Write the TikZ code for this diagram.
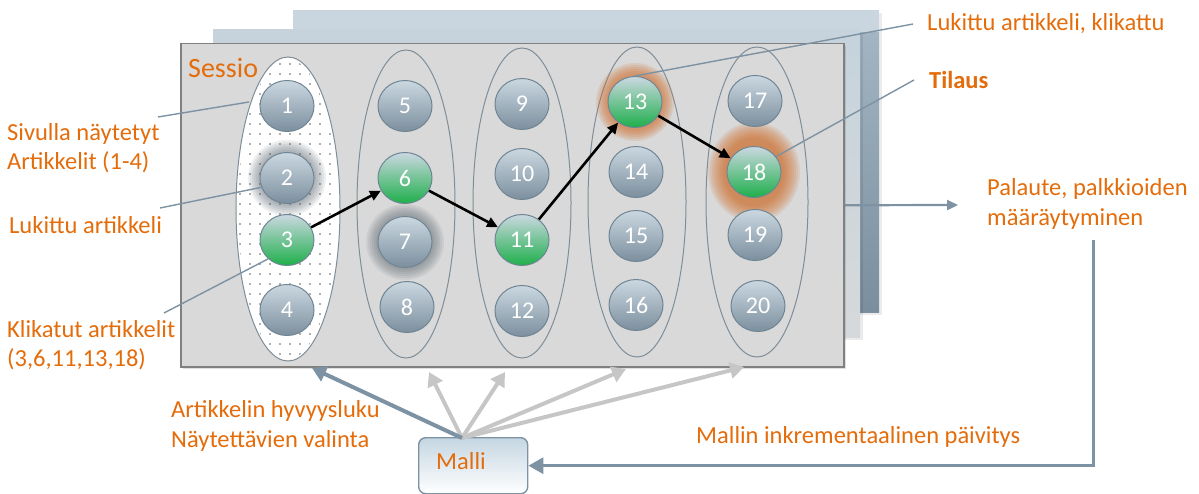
\documentclass[tikz,border=0pt]{standalone}
\usepackage{fontspec}
\setmainfont{Carlito}
\usetikzlibrary{shapes.geometric,arrows.meta,patterns.meta}
\definecolor{org}{HTML}{E46C0A}
\definecolor{lineblue}{HTML}{7D92A2}
\definecolor{backfill}{HTML}{C9D6DF}
\definecolor{midTop}{HTML}{C6D3DC}
\definecolor{midBot}{HTML}{D6D9DB}
\definecolor{stripeTop}{HTML}{A3B5C2}
\definecolor{stripeBot}{HTML}{7A8E9E}
\definecolor{sessfill}{HTML}{D9D9D9}
\definecolor{sessedge}{HTML}{808080}
\definecolor{coledge}{HTML}{7F8D97}
\definecolor{artTop}{HTML}{CBD8E1}
\definecolor{artBot}{HTML}{7C8F9E}
\definecolor{artGreen}{HTML}{1EAF4B}
\definecolor{artedge}{HTML}{6F8594}
\definecolor{glowgray}{HTML}{4A5862}
\definecolor{gloworange}{HTML}{CF6A25}
\definecolor{lightarrow}{HTML}{C6C6C6}
\definecolor{malliTop}{HTML}{C5D6E2}
\tikzset{
  art/.style={ellipse, minimum width=54pt, minimum height=51pt, inner sep=0pt,
    draw=artedge, line width=1pt, top color=artTop, bottom color=artBot,
    text=white, font=\fontsize{24}{24}\selectfont},
  artgreen/.style={art, top color=artTop, bottom color=artGreen},
  column/.style={ellipse, draw=coledge, line width=1pt, inner sep=0pt},
  lbl/.style={text=org, font=\fontsize{24.5}{29.5}\selectfont, align=left, anchor=west, inner sep=0pt},
  callout/.style={draw=lineblue, line width=1.4pt},
  path/.style={draw=black, line width=2.6pt, -{Triangle[length=11pt,width=10pt]}},
  modelarrow/.style={line width=4pt, -{Triangle[length=14pt,width=16pt]}},
}
\begin{document}
\begin{tikzpicture}[x=1pt,y=-1pt]
\useasboundingbox (0,0) rectangle (1199,494);
% stacked session sheets
\fill[black, opacity=0.08] (296,13) rectangle (882,315);
\fill[backfill] (293,10) rectangle (879,312);
\fill[top color=stripeTop, bottom color=stripeBot] (860,33) rectangle (879,312);
\fill[black, opacity=0.08] (216,33) rectangle (863,340);
\fill[top color=midTop, bottom color=midBot] (213,30) rectangle (860,337);
\fill[black, opacity=0.12] (183,46) rectangle (846,369);
\node[draw=sessedge, fill=sessfill, line width=1.5pt, minimum width=663pt, minimum height=323pt,
      inner sep=0pt, anchor=north west] (sess) at (180,43) {};
\node[text=org, font=\fontsize{28}{28}\selectfont, anchor=west, inner sep=0pt] (sessio) at (188,68) {Sessio};

% columns
\node[column, minimum width=104pt, minimum height=304pt, fill=white] (col1) at (288,209) {};
\fill[pattern={Dots[distance=10pt, radius=0.85pt]}, pattern color=gray!75!black]
  (288,209) ellipse [x radius=50pt, y radius=150pt];
\node[column, minimum width=98pt, minimum height=308pt] (col2) at (406,204) {};
\node[column, minimum width=98pt, minimum height=310pt] (col3) at (522,203) {};
\node[column, minimum width=98pt, minimum height=310pt] (col4) at (637,202) {};
\node[column, minimum width=102pt, minimum height=310pt] (col5) at (757,202) {};

% glows
\foreach \r in {29,31,...,39} {
  \fill[glowgray, opacity=0.09] (287,178) ellipse [x radius=\r pt, y radius=\r pt-1pt];
  \fill[glowgray, opacity=0.09] (405,242) ellipse [x radius=\r pt, y radius=\r pt-1pt];
  \fill[gloworange, opacity=0.14] (635,102) ellipse [x radius=\r pt, y radius=\r pt];
}
\foreach \r in {30,32,...,46} {
  \fill[gloworange, opacity=0.12] (754,172) ellipse [x radius=\r pt, y radius=\r pt+4pt];
}

% articles
\node[art] (a1) at (287,106) {1};
\node[art] (a2) at (287,178) {2};
\node[artgreen] (a3) at (287,240) {3};
\node[art] (a4) at (287,310) {4};
\node[art] (a5) at (405,106) {5};
\node[artgreen] (a6) at (405,178) {6};
\node[art] (a7) at (405,242) {7};
\node[art] (a8) at (407,307) {8};
\node[art] (a9) at (522,104) {9};
\node[art] (a10) at (522,174) {10};
\node[artgreen] (a11) at (522,240) {11};
\node[art] (a12) at (522,311) {12};
\node[artgreen] (a13) at (635,102) {13};
\node[art] (a14) at (636,172) {14};
\node[art] (a15) at (636,236) {15};
\node[art] (a16) at (636,305) {16};
\node[art] (a17) at (755,101) {17};
\node[artgreen] (a18) at (754,172) {18};
\node[art] (a19) at (755,235) {19};
\node[art] (a20) at (758,306) {20};

% click path
\draw[path] (a3) -- (a6);
\draw[path] (a6) -- (a11);
\draw[path] (a11) -- (a13);
\draw[path] (a13) -- (a18);

% labels
\node[lbl] (sivulla) at (7,148) {Sivulla näytetyt\\Artikkelit (1-4)};
\node[lbl] (lukittu) at (9,225) {Lukittu artikkeli};
\node[lbl] (klikatut) at (7,345) {Klikatut artikkelit\\(3,6,11,13,18)};
\node[lbl] (lukklik) at (927,24) {Lukittu artikkeli, klikattu};
\node[lbl, font=\fontsize{24.5}{29.5}\selectfont\bfseries] (tilaus) at (929,80) {Tilaus};
\node[lbl] (palaute) at (987,204) {Palaute, palkkioiden\\määräytyminen};
\node[lbl] (hyvyys) at (171,426) {Artikkelin hyvyysluku\\Näytettävien valinta};
\node[lbl] (mallinpv) at (696,437) {Mallin inkrementaalinen päivitys};

% callout lines
\coordinate (c1) at (158,117);
\coordinate (c1e) at (249,102);
\draw[callout] (c1) -- (c1e);
\coordinate (c2) at (160,208);
\draw[callout] (c2) -- (a2.200);
\coordinate (c3) at (164,313);
\draw[callout] (c3) -- (a3.225);
\coordinate (c4) at (913,24);
\draw[callout] (c4) -- (a13.north);
\coordinate (c5) at (914,80);
\draw[callout] (c5) -- (a18.35);

% model box
\node[draw=lineblue, line width=1.4pt, rounded corners=7pt, top color=malliTop, bottom color=white,
      minimum width=109pt, minimum height=56pt, inner sep=0pt, anchor=north west] (malli) at (418,437) {};
\node[text=org, font=\fontsize{24.5}{24.5}\selectfont, inner sep=0pt] (mallitxt) at (461,461) {Malli};

% feedback
\coordinate (pend) at (958,205);
\draw[lineblue, line width=2.2pt, -{Triangle[length=11pt,width=10pt]}] (sess.east) -- (pend);
\coordinate (fb) at (1093,240);
\draw[lineblue, line width=3pt, -{Triangle[length=15pt,width=16pt]}] (fb) |- (malli.east);

% model arrows
\coordinate (mo) at (462,438);
\coordinate (t1) at (312,368);
\coordinate (t2) at (429,372);
\coordinate (t3) at (505,372);
\coordinate (t4) at (626,369);
\coordinate (t5) at (744,367);
\draw[modelarrow, lightarrow] (mo) -- (t2);
\draw[modelarrow, lightarrow] (mo) -- (t3);
\draw[modelarrow, lightarrow] (mo) -- (t4);
\draw[modelarrow, lightarrow] (mo) -- (t5);
\draw[modelarrow, lineblue] (mo) -- (t1);
\end{tikzpicture}
\end{document}
